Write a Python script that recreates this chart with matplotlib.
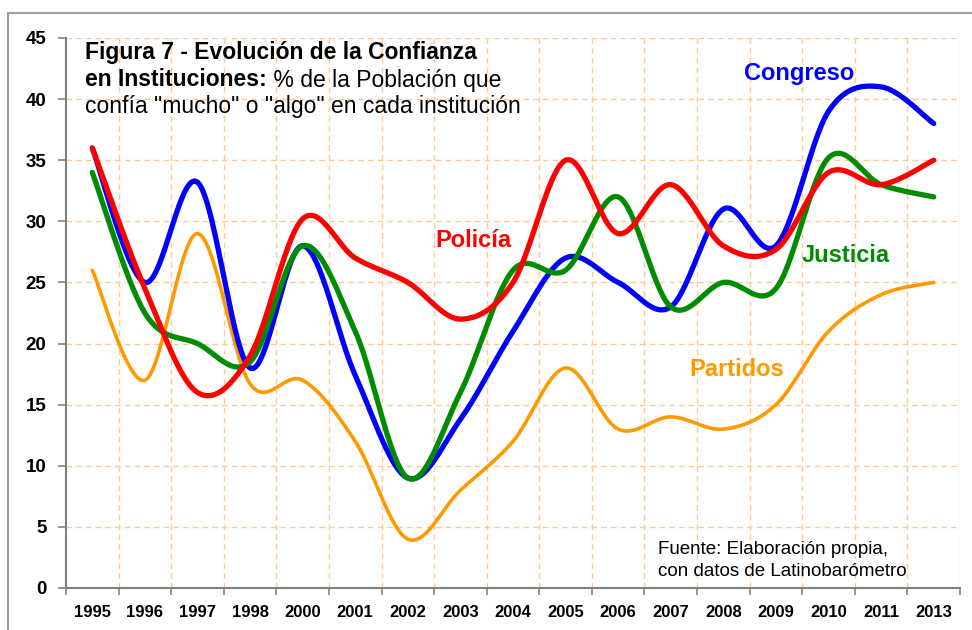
import numpy as np
import matplotlib
matplotlib.use('Agg')
import matplotlib.pyplot as plt
from matplotlib.patches import Rectangle

plt.rcParams['font.family'] = ['Liberation Sans', 'DejaVu Sans']

years = ['1995', '1996', '1997', '1998', '2000', '2001', '2002', '2003', '2004',
         '2005', '2006', '2007', '2008', '2009', '2010', '2011', '2013']

congreso = [36, 25, 33.2, 18, 28, 17.4, 9, 13.8, 21, 27, 25, 23, 31, 28, 39, 41, 38]
justicia = [34, 22.5, 20, 18.5, 28, 21, 9, 16, 26, 26, 32, 23, 25, 24.5, 35.2, 33, 32]
policia = [36, 24.5, 16, 19, 30.2, 27, 25, 22, 25, 35, 29, 33, 28, 27.7, 34, 33, 35]
partidos = [26, 17, 29, 16.7, 17, 12, 4, 8, 12, 18, 13, 14, 13, 15, 21, 24, 25]


def smooth(xs, ys, n=30):
    # excel-like smoothed line (catmull-rom / bezier 1/6)
    p = np.column_stack([xs, ys]).astype(float)
    ext = np.vstack([p[0], p, p[-1]])
    out = []
    t = np.linspace(0, 1, n)[:, None]
    for i in range(len(p) - 1):
        p0, p1 = ext[i + 1], ext[i + 2]
        c1 = p0 + (ext[i + 2] - ext[i]) / 6.0
        c2 = p1 - (ext[i + 3] - ext[i + 1]) / 6.0
        seg = ((1 - t) ** 3) * p0 + 3 * ((1 - t) ** 2) * t * c1 + 3 * (1 - t) * t ** 2 * c2 + t ** 3 * p1
        out.append(seg if i == 0 else seg[1:])
    out = np.vstack(out)
    return out[:, 0], out[:, 1]


x = np.arange(len(years))

fig = plt.figure(figsize=(9.72, 6.3), dpi=100)
ax = fig.add_axes([66 / 972, 42 / 630, 894 / 972, 550 / 630])

grid_c = '#FFC896'
for yv in range(5, 50, 5):
    ax.axhline(yv, color=grid_c, lw=1.0, ls=(0, (4, 3)), zorder=1)
for xb in np.arange(0.5, len(years), 1.0):
    ax.axvline(xb, color=grid_c, lw=1.0, ls=(0, (4, 3)), zorder=1)

series = [(partidos, '#FF9900', 2.6), (congreso, '#0000FF', 3.8),
          (justicia, '#008C00', 3.8), (policia, '#FF0000', 3.8)]
for i, (vals, col, lw) in enumerate(series):
    sx, sy = smooth(x, vals)
    ax.plot(sx, sy, color=col, lw=lw, solid_capstyle='round', zorder=3 + i)

ax.set_xlim(-0.5, len(years) - 0.5)
ax.set_ylim(0, 45)
ax.set_yticks(range(0, 50, 5))
ax.set_xticks(np.arange(-0.5, len(years), 1.0))
ax.set_xticklabels([])
ax.set_xticks(x, minor=True)
ax.set_xticklabels(years, minor=True, fontsize=12, fontweight='bold')
ax.tick_params(axis='x', which='minor', length=0, pad=12)
ax.tick_params(axis='x', which='major', length=5, color='#808080', width=1.2)
ax.tick_params(axis='y', length=6, color='#808080', width=1.2, pad=8)
for lab in ax.get_yticklabels():
    lab.set_fontsize(13.5)
    lab.set_fontweight('bold')

for s in ['top', 'right']:
    ax.spines[s].set_visible(False)
for s in ['left', 'bottom']:
    ax.spines[s].set_color('#808080')
    ax.spines[s].set_linewidth(1.5)
    ax.spines[s].set_zorder(10)

# series labels
ax.text(13.45, 42.1, 'Congreso', color='#0000FF', fontsize=17, fontweight='bold', ha='center', va='center')
ax.text(7.24, 28.4, 'Policía', color='#FF0000', fontsize=17, fontweight='bold', ha='center', va='center')
ax.text(14.33, 27.2, 'Justicia', color='#008C00', fontsize=17, fontweight='bold', ha='center', va='center')
ax.text(12.26, 17.9, 'Partidos', color='#FF9900', fontsize=17, fontweight='bold', ha='center', va='center')

# title block
tx = 85 / 972
fs = 16.5
fig.text(tx, 1 - 52 / 630, 'Figura 7 - Evolución de la Confianza', fontsize=fs,
         fontweight='bold', va='center', ha='left')
t2 = fig.text(tx, 1 - 80 / 630, 'en Instituciones:', fontsize=fs, fontweight='bold',
              va='center', ha='left')
fig.text(tx, 1 - 107 / 630, 'confía "mucho" o "algo" en cada institución', fontsize=fs,
         va='center', ha='left')
fig.canvas.draw()
bb = t2.get_window_extent(renderer=fig.canvas.get_renderer())
fig.text(bb.x1 / fig.bbox.width, 1 - 80 / 630, ' % de la Población que', fontsize=fs,
         va='center', ha='left')

fig.text(658 / 972, 1 - 549 / 630, 'Fuente: Elaboración propia,', fontsize=13.5, va='center', ha='left')
fig.text(658 / 972, 1 - 572 / 630, 'con datos de Latinobarómetro', fontsize=13.5, va='center', ha='left')

fig.patches.append(Rectangle((8 / 972, -0.05), 1.2, 1 - 13 / 630 + 0.05, transform=fig.transFigure,
                             fill=False, edgecolor='#A0A0A0', lw=1.5, clip_on=False))

fig.savefig('out.png', dpi=100)
